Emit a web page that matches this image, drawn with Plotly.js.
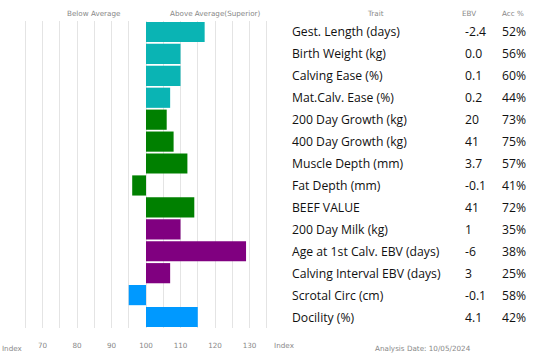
<!DOCTYPE html>
<html>
<head>
<meta charset="utf-8">
<script src="https://cdn.plot.ly/plotly-3.0.1.min.js"></script>
<style>html,body{margin:0;padding:0;background:#fff;}#chart{width:550px;height:362px;}</style>
</head>
<body>
<div id="chart"></div>
<script>
const traits = ["Gest. Length (days)","Birth Weight (kg)","Calving Ease (%)","Mat.Calv. Ease (%)","200 Day Growth (kg)","400 Day Growth (kg)","Muscle Depth (mm)","Fat Depth (mm)","BEEF VALUE","200 Day Milk (kg)","Age at 1st Calv. EBV (days)","Calving Interval EBV (days)","Scrotal Circ (cm)","Docility (%)"];
const indexValues = [117,110,110,107,106,108,112,96,114,110,129,107,95,115];
const ebv = ["-2.4","0.0","0.1","0.2","20","41","3.7","-0.1","41","1","-6","3","-0.1","4.1"];
const acc = ["52%","56%","60%","44%","73%","75%","57%","41%","72%","35%","38%","25%","58%","42%"];
const groups = ["calving","calving","calving","calving","growth","growth","growth","growth","growth","fertility","fertility","fertility","fertility2","fertility2"];
const tickVals = [60,65,70,75,80,85,90,95,100,105,110,115,120,125,130,135,140];
const tickText = ["","","70","","80","","90","","100","","110","","120","","130","","Index"];

const groupColor = {calving:"#0AB4B4", growth:"#008000", fertility:"#800080", fertility2:"#0099FF"};
const BASE = 100;

const trace = {
  type: "bar",
  orientation: "h",
  y: traits.map((t,i)=>i),
  x: indexValues.map(v => v - BASE),
  base: BASE,
  marker: {color: groups.map(g => groupColor[g]), line:{width:0}},
  hoverinfo: "skip"
};

const L = 8, R = 284; // plot area pixel edges
const px = p => (p - L) / (R - L);

const ann = [];
const tableFont = {family: "'Open Sans', 'Noto Sans', sans-serif", size: 12.2, color: "#111"};
traits.forEach((t,i) => {
  ann.push({xref:"paper", yref:"y", x: px(290), y: i, text: t, showarrow:false, xanchor:"left", font: tableFont});
  ann.push({xref:"paper", yref:"y", x: px(463), y: i, text: ebv[i], showarrow:false, xanchor:"left", font: tableFont});
  ann.push({xref:"paper", yref:"y", x: px(500), y: i, text: acc[i], showarrow:false, xanchor:"left", font: tableFont});
});
const smallFont = {family: "'DejaVu Sans', Verdana, sans-serif", size: 7.2, color: "#888"};
ann.push({xref:"paper", yref:"paper", x: px(94), y: 1, yshift: 8, text: "Below Average", showarrow:false, xanchor:"center", yanchor:"middle", font: smallFont});
ann.push({xref:"paper", yref:"paper", x: px(215), y: 1, yshift: 8, text: "Above Average(Superior)", showarrow:false, xanchor:"center", yanchor:"middle", font: smallFont});
ann.push({xref:"paper", yref:"paper", x: px(375), y: 1, yshift: 8, text: "Trait", showarrow:false, xanchor:"center", yanchor:"middle", font: smallFont});
ann.push({xref:"paper", yref:"paper", x: px(469), y: 1, yshift: 8, text: "EBV", showarrow:false, xanchor:"center", yanchor:"middle", font: smallFont});
ann.push({xref:"paper", yref:"paper", x: px(513), y: 1, yshift: 8, text: "Acc %", showarrow:false, xanchor:"center", yanchor:"middle", font: smallFont});
ann.push({xref:"paper", yref:"paper", x: px(423), y: 0, yshift: -20, text: "Analysis Date: 10/05/2024", showarrow:false, xanchor:"center", yanchor:"middle", font: smallFont});
ann.push({xref:"paper", yref:"paper", x: px(0), y: 0, yshift: -20, text: "Index", showarrow:false, xanchor:"left", yanchor:"middle", font: smallFont});

const layout = {
  width: 550, height: 362,
  margin: {l: L, r: 550 - R, t: 21, b: 34},
  paper_bgcolor: "#fff", plot_bgcolor: "#fff",
  showlegend: false,
  bargap: 0.08,
  xaxis: {
    range: [60, 140], tickvals: tickVals, ticktext: tickText,
    showgrid: true, gridcolor: "#e4e4e4", gridwidth: 1,
    zeroline: false, showline: false, ticks: "",
    ticklabelstandoff: 12,
    tickfont: smallFont, fixedrange: true
  },
  yaxis: {
    range: [traits.length - 0.5, -0.5],
    showgrid: false, zeroline: false, showticklabels: false, ticks: "", fixedrange: true
  },
  annotations: ann
};

Plotly.newPlot("chart", [trace], layout, {displayModeBar: false, staticPlot: true});
</script>
</body>
</html>
